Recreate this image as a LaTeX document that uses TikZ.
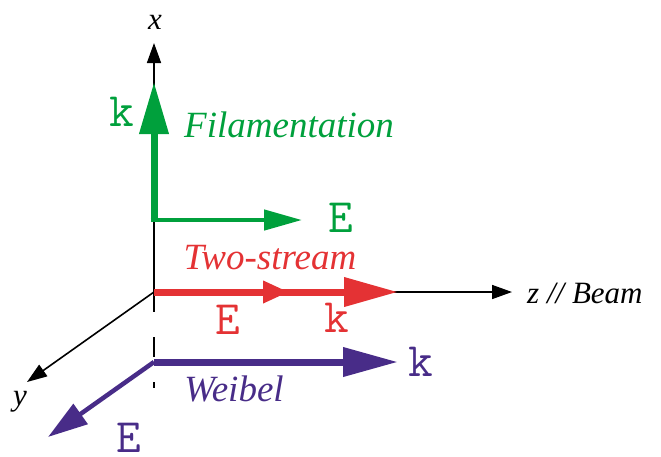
\documentclass[tikz,border=0pt]{standalone}
\usepackage{fontspec}
\setmainfont{Liberation Serif}
\usetikzlibrary{arrows.meta, positioning}
\definecolor{green1}{RGB}{0, 160, 60}
\definecolor{red1}{RGB}{228, 50, 52}
\definecolor{violet1}{RGB}{72, 44, 136}

\begin{document}
\begin{tikzpicture}[x=1pt, y=-1pt,
  every node/.style={inner sep=0pt},
  axis/.style={line width=1.6pt, -{Triangle[length=20pt, width=14pt]}},
  bigvec/.style={line width=7pt, -{Triangle[length=52pt, width=28pt]}},
  smallvec/.style={line width=4.5pt, -{Triangle[length=38pt, width=20pt]}},
  modelabel/.style={font=\fontsize{37}{40}\selectfont\itshape},
  axislabel/.style={font=\fontsize{31}{34}\selectfont\itshape},
  veclabel/.style={font=\fontsize{48}{50}\selectfont\ttfamily}]
  \useasboundingbox (0,0) rectangle (661,456);

  \coordinate (O) at (154,292);
  \coordinate (xtip) at (154,43);
  \coordinate (ytip) at (27,382);
  \coordinate (ztip) at (512,292);
  \coordinate (xbot) at (154,388);

  % axes
  \draw[axis] (O) -- (xtip);
  \draw[axis] (O) -- (ytip);
  \draw[axis] (O) -- (ztip);
  \draw[line width=1.6pt, dash pattern=on 20pt off 25pt] (O) -- (xbot);
  \node[axislabel] (xlabel) at (155,22) {x};
  \node[axislabel] (ylabel) at (20,402) {y};
  \node[axislabel, anchor=base west] (zlabel) at (527,303) {z // Beam};

  % filamentation
  \coordinate (fcorner) at (154,222);
  \coordinate (fk) at (154,82);
  \coordinate (fe) at (302,220);
  \draw[green1, bigvec] (fcorner) -- (fk);
  \draw[green1, smallvec] (150.5,220) -- (fe);
  \node[veclabel, text=green1] (kfil) at (122,112) {k};
  \node[veclabel, text=green1] (efil) at (341,218) {E};
  \node[modelabel, text=green1] (fil) at (289,125) {Filamentation};

  % two-stream
  \coordinate (tk) at (398,292);
  \coordinate (te) at (289,292);
  \draw[red1, line width=7pt, -{Triangle[length=54pt, width=28pt]}] (O) -- (tk);
  \draw[red1, line width=7pt, -{Triangle[length=26pt, width=21pt]}] (O) -- (te);
  \node[modelabel, text=red1] (two) at (270,258) {Two-stream};
  \node[veclabel, text=red1] (etwo) at (228,320) {E};
  \node[veclabel, text=red1] (ktwo) at (337,318) {k};

  % weibel
  \coordinate (W) at (154,362);
  \coordinate (wk) at (398,362);
  \coordinate (we) at (48,437);
  \draw[violet1, line width=7pt, -{Triangle[length=55pt, width=28pt]}] (W) -- (wk);
  \draw[violet1, line width=4.5pt, -{Triangle[length=40pt, width=24pt]}] (W) -- (we);
  \node[modelabel, text=violet1] (wei) at (234,389) {Weibel};
  \node[veclabel, text=violet1] (kwei) at (421,362) {k};
  \node[veclabel, text=violet1] (ewei) at (129,438) {E};
\end{tikzpicture}
\end{document}
